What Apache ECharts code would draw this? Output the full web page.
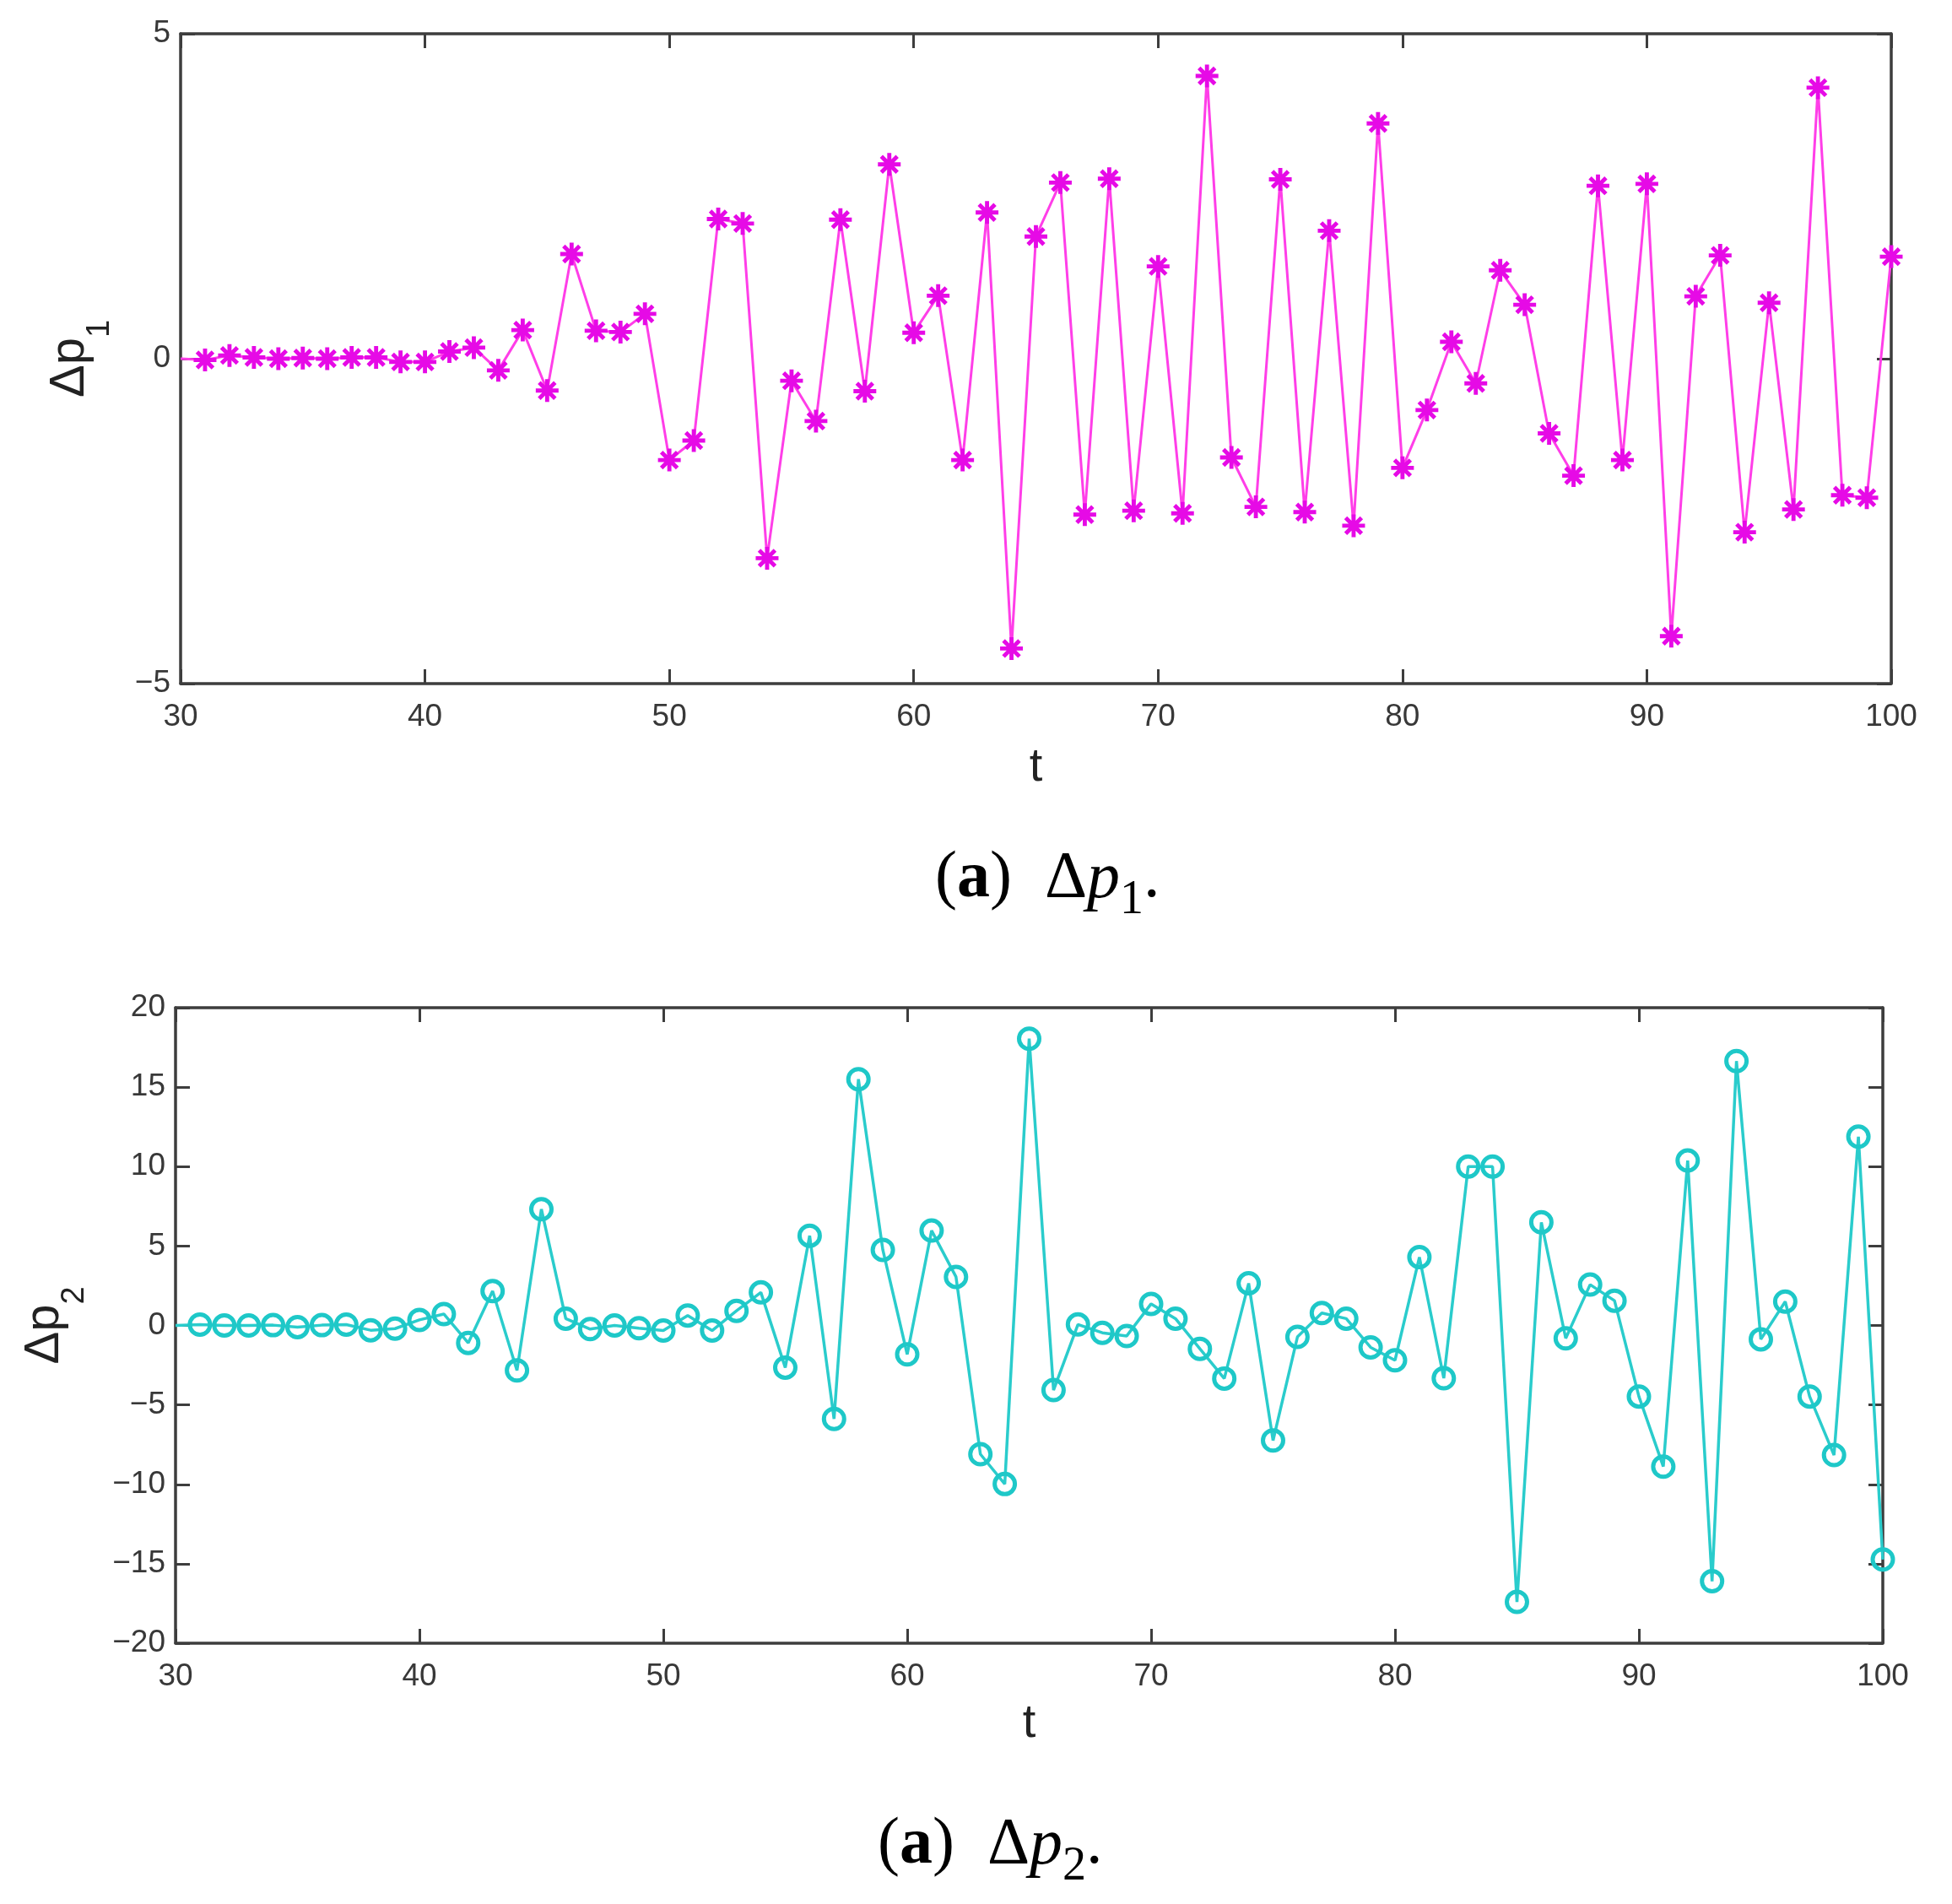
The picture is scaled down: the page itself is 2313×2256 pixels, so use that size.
<!DOCTYPE html>
<html lang="en">
<head>
    <meta charset="UTF-8">
    <title>dp1 dp2</title>
    <script src="https://cdn.jsdelivr.net/npm/echarts@6/dist/echarts.min.js"></script>
</head>
<style>
    html, body {
        margin: 0;
        padding: 0;
        background: #fff;
    }
    #chart {
        width: 2313px;
        height: 2256px;
    }
</style>
<body>
<div id="chart"></div>
</body>
<script>
    // time steps
    var t = [30, 31, 32, 33, 34, 35, 36, 37, 38, 39,
        40, 41, 42, 43, 44, 45, 46, 47, 48, 49,
        50, 51, 52, 53, 54, 55, 56, 57, 58, 59,
        60, 61, 62, 63, 64, 65, 66, 67, 68, 69,
        70, 71, 72, 73, 74, 75, 76, 77, 78, 79,
        80, 81, 82, 83, 84, 85, 86, 87, 88, 89,
        90, 91, 92, 93, 94, 95, 96, 97, 98, 99, 100];

    // delta p1 (top plot)
    var dp1 = [0, -0.02, 0.05, 0.02, 0, 0.01, 0, 0.02, 0.02, -0.05,
        -0.05, 0.11, 0.17, -0.18, 0.44, -0.49, 1.61, 0.43, 0.41, 0.69,
        -1.56, -1.26, 2.15, 2.08, -3.07, -0.34, -0.96, 2.14, -0.5, 2.99,
        0.4, 0.97, -1.56, 2.25, -4.46, 1.88, 2.71, -2.4, 2.77, -2.34,
        1.42, -2.38, 4.35, -1.52, -2.28, 2.76, -2.36, 1.97, -2.57, 3.62,
        -1.68, -0.79, 0.26, -0.38, 1.36, 0.83, -1.15, -1.8, 2.66, -1.56,
        2.69, -4.27, 0.96, 1.59, -2.67, 0.86, -2.32, 4.17, -2.1, -2.14, 1.57];

    // delta p2 (bottom plot)
    var dp2 = [0, 0.05, 0, 0, 0.02, -0.1, 0.02, 0.05, -0.3, -0.2,
        0.35, 0.72, -1.1, 2.16, -2.83, 7.32, 0.43, -0.23, 0, -0.17,
        -0.32, 0.63, -0.32, 0.92, 2.08, -2.65, 5.65, -5.88, 15.5, 4.76,
        -1.82, 5.97, 3.06, -8.1, -9.98, 18.05, -4.07, 0.06, -0.46, -0.66,
        1.36, 0.43, -1.47, -3.34, 2.65, -7.24, -0.72, 0.78, 0.43, -1.38,
        -2.19, 4.3, -3.32, 10.0, 10.0, -17.4, 6.49, -0.81, 2.57, 1.56,
        -4.47, -8.88, 10.38, -16.1, 16.64, -0.87, 1.5, -4.47, -8.16, 11.88, -14.73];

    var xTicks = {min: 30, max: 100, interval: 10};
    var y1Ticks = {min: -5, max: 5, interval: 5};
    var y2Ticks = {min: -20, max: 20, interval: 5};

    var sansFont = 'Liberation Sans';
    var serifFont = 'Liberation Serif';
    var axisColor = '#3d3d3d';
    var textColor = '#383838';

    // MATLAB style '*' marker, 4 thick spokes
    var asterisk = 'path://M0 41L100 41L100 59L0 59Z' +
        'M41 0L59 0L59 100L41 100Z' +
        'M21.4 8.6L91.4 78.6L78.6 91.4L8.6 21.4Z' +
        'M91.4 21.4L21.4 91.4L8.6 78.6L78.6 8.6Z';

    function pairs(ys) {
        var out = [];
        for (var i = 0; i < t.length; i++) {
            out.push([t[i], ys[i]]);
        }
        return out;
    }

    function minusFmt(v) {
        return String(v).replace('-', '\u2212');
    }

    function bottomX(grid, gap) {
        return {
            type: 'value', gridIndex: grid,
            min: xTicks.min, max: xTicks.max, interval: xTicks.interval,
            name: 't', nameLocation: 'middle', nameGap: gap,
            nameTextStyle: {fontFamily: sansFont, fontSize: 56, color: '#222'},
            axisLine: {show: true, onZero: false, lineStyle: {color: axisColor, width: 3.5}},
            axisTick: {show: true, inside: true, length: 17, lineStyle: {color: axisColor, width: 3}},
            axisLabel: {margin: 21, fontFamily: sansFont, fontSize: 37, color: textColor},
            splitLine: {show: false}
        };
    }

    function topX(grid) {
        return {
            type: 'value', gridIndex: grid, position: 'top',
            min: xTicks.min, max: xTicks.max, interval: xTicks.interval,
            axisLine: {show: true, onZero: false, lineStyle: {color: axisColor, width: 3.5}},
            axisTick: {show: true, inside: true, length: 17, lineStyle: {color: axisColor, width: 3}},
            axisLabel: {show: false},
            splitLine: {show: false}
        };
    }

    function leftY(grid, ticks, sub, gap) {
        return {
            type: 'value', gridIndex: grid,
            min: ticks.min, max: ticks.max, interval: ticks.interval,
            name: '{m|\u0394p}{s|' + sub + '}', nameLocation: 'middle', nameGap: gap,
            nameTextStyle: {
                fontFamily: sansFont, fontSize: 58, color: '#222',
                rich: {
                    m: {fontFamily: sansFont, fontSize: 58, lineHeight: 110, color: '#222'},
                    s: {fontFamily: sansFont, fontSize: 38, lineHeight: 110, verticalAlign: 'bottom', color: '#222'}
                }
            },
            axisLine: {show: true, onZero: false, lineStyle: {color: axisColor, width: 3.5}},
            axisTick: {show: true, inside: true, length: 17, lineStyle: {color: axisColor, width: 3}},
            axisLabel: {margin: 12, fontFamily: sansFont, fontSize: 37, color: textColor, formatter: minusFmt},
            splitLine: {show: false}
        };
    }

    function rightY(grid, ticks) {
        return {
            type: 'value', gridIndex: grid, position: 'right',
            min: ticks.min, max: ticks.max, interval: ticks.interval,
            axisLine: {show: true, onZero: false, lineStyle: {color: axisColor, width: 3.5}},
            axisTick: {show: true, inside: true, length: 17, lineStyle: {color: axisColor, width: 3}},
            axisLabel: {show: false},
            splitLine: {show: false}
        };
    }

    function caption(sub, left, top) {
        return {
            text: '{n|(}{b|a}{n|)}{n|  \u0394}{i|p}{s|' + sub + '}{n|.}',
            left: left, top: top, padding: 0,
            textStyle: {
                fontFamily: serifFont, fontSize: 78, fontWeight: 'normal', color: '#000',
                rich: {
                    n: {fontFamily: serifFont, fontSize: 78, fontWeight: 'normal', lineHeight: 106, color: '#000'},
                    b: {fontFamily: serifFont, fontSize: 78, fontWeight: 'bold', lineHeight: 106, color: '#000'},
                    i: {fontFamily: serifFont, fontSize: 78, fontWeight: 'normal', fontStyle: 'italic', lineHeight: 106, color: '#000'},
                    s: {fontFamily: serifFont, fontSize: 56, fontWeight: 'normal', lineHeight: 106, verticalAlign: 'bottom', color: '#000'}
                }
            }
        };
    }

    // no marker on the first point, it sits on the axis
    function markerAt(shape) {
        return function (v) {
            return v[0] === t[0] ? 'none' : shape;
        };
    }

    var myChart = echarts.init(document.getElementById('chart'));
    myChart.setOption({
        backgroundColor: '#fff',
        animation: false,
        title: [
            caption('1', 1108, 989),
            caption('2', 1040, 2134)
        ],
        grid: [
            {left: 214, top: 40, width: 2027, height: 770},
            {left: 208, top: 1194, width: 2023, height: 753}
        ],
        xAxis: [bottomX(0, 72), topX(0), bottomX(1, 68), topX(1)],
        yAxis: [leftY(0, y1Ticks, '1', 76), rightY(0, y1Ticks), leftY(1, y2Ticks, '2', 100), rightY(1, y2Ticks)],
        series: [
            {
                name: 'dp1', type: 'line', xAxisIndex: 0, yAxisIndex: 0,
                data: pairs(dp1),
                symbol: markerAt(asterisk), symbolSize: 27,
                itemStyle: {color: '#e60ae6'},
                lineStyle: {color: '#ff3ee8', width: 3},
                clip: false
            },
            {
                name: 'dp2', type: 'line', xAxisIndex: 2, yAxisIndex: 2,
                data: pairs(dp2),
                symbol: markerAt('circle'), symbolSize: 24,
                itemStyle: {color: 'rgba(0,0,0,0)', borderColor: '#1ec8c8', borderWidth: 5},
                lineStyle: {color: '#2acccc', width: 3.5},
                clip: false
            }
        ]
    });
</script>
</html>
